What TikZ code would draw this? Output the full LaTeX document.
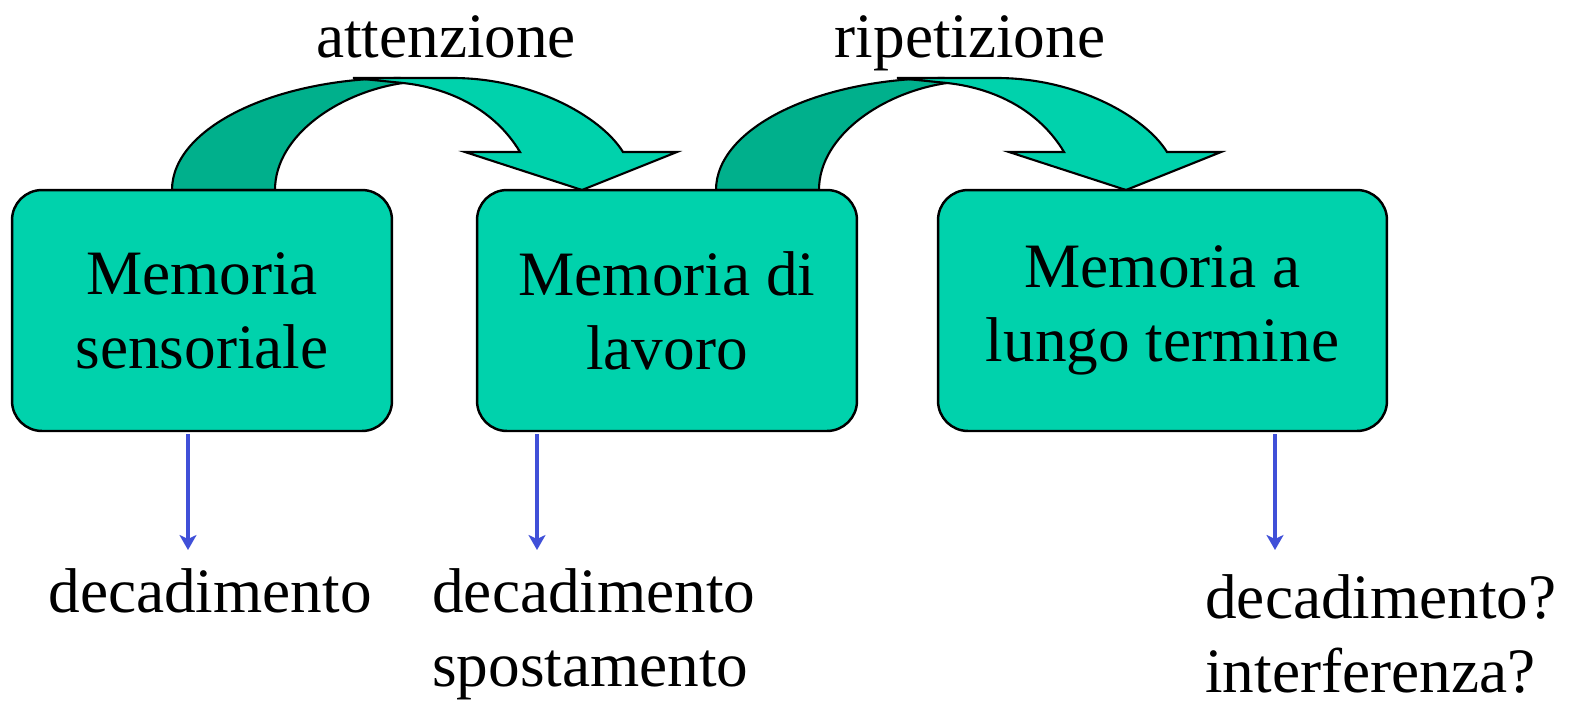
\documentclass[tikz,border=0pt]{standalone}
\usepackage{fontspec}
\setmainfont{Liberation Serif}
\usetikzlibrary{arrows.meta}

\definecolor{boxgreen}{HTML}{00D2AC}
\definecolor{backgreen}{HTML}{00B08C}
\definecolor{decayblue}{HTML}{4050D8}

\begin{document}
\begin{tikzpicture}[
    x=0.02cm, y=-0.02cm,
    memory/.style={draw, line width=1.4pt, fill=boxgreen, rounded corners=0.6cm,
        minimum height=4.82cm, align=center, font=\fontsize{36}{42}\selectfont},
    label/.style={inner sep=0pt, font=\fontsize{36}{42}\selectfont},
    bentfront/.style={draw, line width=1.2pt, fill=boxgreen, line join=miter},
    bentback/.style={draw, line width=1.2pt, fill=backgreen},
    decay/.style={-{Stealth[length=0.3cm, width=0.34cm, inset=0.08cm]}, line width=2.8pt, decayblue},
]
\useasboundingbox (0,0) rectangle (1571,704);

% Bent arrows
\foreach \dx in {0,544} {
\begin{scope}[shift={(\dx,0)}]
\path[bentback] (172,190) .. controls (172,128) and (274,78) .. (400,78)
    -- (403,83) .. controls (340,92) and (275,135) .. (275,190) -- cycle;
\path[bentfront] (353,78) -- (453,78) .. controls (530,78) and (600,115) .. (623,152)
    -- (677,152) -- (582,190) -- (465,152) -- (520,152)
    .. controls (495,110) and (450,88) .. (403,83) -- cycle;
\end{scope}
}

% Nodes
\node[memory, minimum width=7.6cm] (m1) at (202,310.5) {Memoria\\sensoriale};
\node[memory, minimum width=7.6cm] (m2) at (667,310.5) {Memoria di\\lavoro};
\node[memory, minimum width=8.98cm] (m3) at (1162.5,310.5) {Memoria a\\lungo termine};

\node[label, anchor=base] (att) at (446,57) {attenzione};
\node[label, anchor=base] (rip) at (970,57) {ripetizione};

\node[label, anchor=base] (dec1) at (210,612) {decadimento};
\node[label, anchor=north west, align=left] (dec2) at (432,568) {decadimento\\spostamento};
\node[label, anchor=north west, align=left] (dec3) at (1205,574) {decadimento?\\interferenza?};

\coordinate (d1) at (188,550);
\coordinate (d2) at (537,550);
\coordinate (d3) at (1275,550);

% Edges
\draw[decay] (m1.south -| d1) ++(0,2) -- (d1);
\draw[decay] (m2.south -| d2) ++(0,2) -- (d2);
\draw[decay] (m3.south -| d3) ++(0,2) -- (d3);

\end{tikzpicture}
\end{document}
